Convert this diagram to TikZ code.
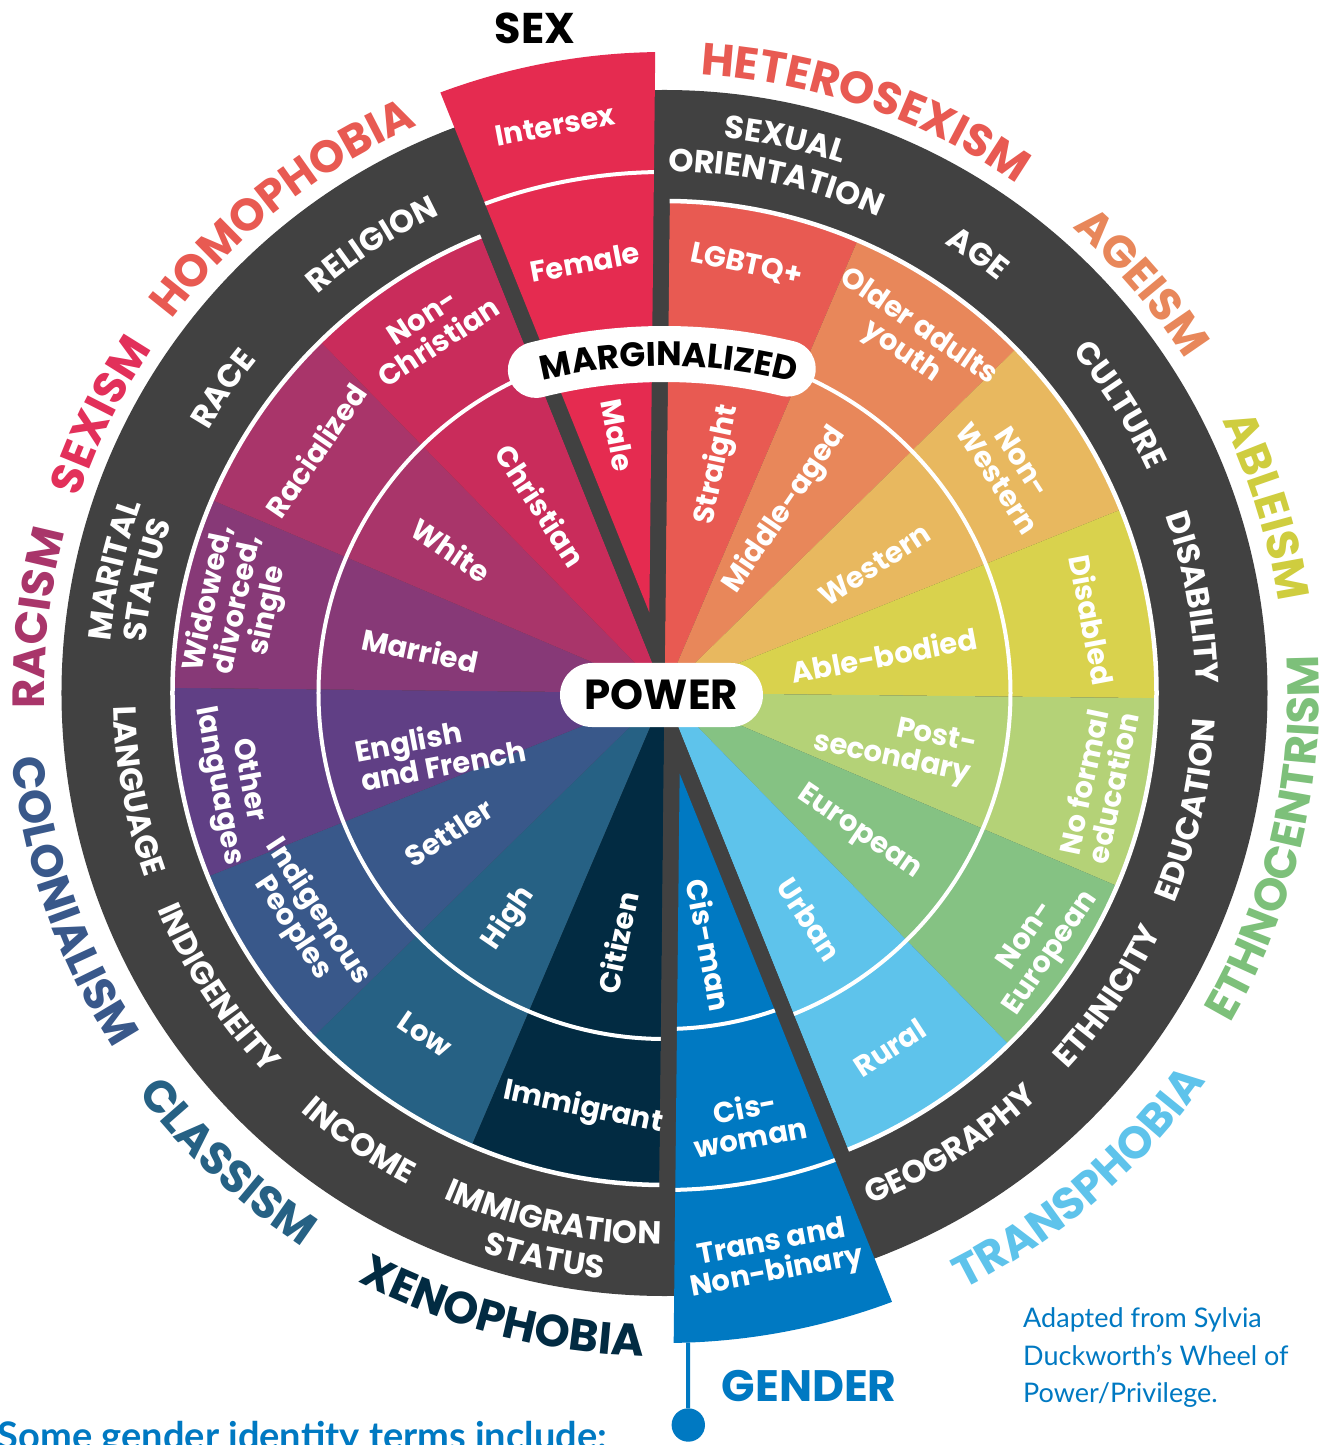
\documentclass[tikz,border=0pt]{standalone}
\usepackage{fontspec}
\setmainfont{Poppins}
\newfontfamily\lato{Lato}
\usetikzlibrary{decorations.text}
\definecolor{cdark}{HTML}{414141}
\definecolor{csexor}{HTML}{E85A52}
\definecolor{cage}{HTML}{E8875A}
\definecolor{ccult}{HTML}{E8B85F}
\definecolor{cdis}{HTML}{D9D24D}
\definecolor{cedu}{HTML}{B4D277}
\definecolor{ceth}{HTML}{85C283}
\definecolor{cgeo}{HTML}{5EC3EB}
\definecolor{cgen}{HTML}{0079C2}
\definecolor{cimm}{HTML}{022B42}
\definecolor{cinc}{HTML}{266184}
\definecolor{cind}{HTML}{39588A}
\definecolor{clan}{HTML}{603F85}
\definecolor{cmar}{HTML}{873977}
\definecolor{crace}{HTML}{A9356A}
\definecolor{crel}{HTML}{C92C5B}
\definecolor{csex}{HTML}{E52B50}
\definecolor{cableism}{HTML}{CFCD3F}
\definecolor{cethism}{HTML}{7DC07A}
\definecolor{csexism}{HTML}{E2305A}
\newcommand\ringf{\bfseries\fontsize{32}{35}\selectfont\color{white}}
\newcommand\ismf{\bfseries\fontsize{45}{50}\selectfont}
\newcommand\rt{(-0.6)}
\newcommand\wedgefill[4]{\fill[#1] (0,0) -- ({#2}:#4) arc[start angle={#2}, end angle={#3}, radius=#4] -- cycle;}
\newcommand\utext[4]{\path[decorate,decoration={text along path,text align=center,text={|#3|#4}}] ({#1+45}:#2) arc[start angle={#1+45},end angle={#1-45},radius=#2];}
\newcommand\ltext[4]{\path[decorate,decoration={text along path,text align=center,text={|#3|#4}}] ({#1-45}:#2) arc[start angle={#1-45},end angle={#1+45},radius=#2];}
\tikzset{
  seg/.style={text=white, font=\bfseries\fontsize{29}{30}\selectfont, align=center, inner sep=0},
  whiteline/.style={draw=white, line width=4}
}
\begin{document}
\begin{tikzpicture}[x=1pt,y=1pt]
\useasboundingbox (-664.5,-752) rectangle (672.5,693);
\fill[white] (-664.5,-752) rectangle (672.5,693);
% dark ring
\fill[cdark] (0,0) circle[radius=603];
% category wedges
\wedgefill{csexor}{67.5+\rt}{90+\rt}{492}
\wedgefill{cage}{45+\rt}{67.5+\rt}{492}
\wedgefill{ccult}{22.5+\rt}{45+\rt}{492}
\wedgefill{cdis}{0+\rt}{22.5+\rt}{492}
\wedgefill{cedu}{-22.5+\rt}{0+\rt}{492}
\wedgefill{ceth}{-45+\rt}{-22.5+\rt}{492}
\wedgefill{cgeo}{-67.5+\rt}{-45+\rt}{492}
\wedgefill{cimm}{247.5+\rt}{270+\rt}{492}
\wedgefill{cinc}{225+\rt}{247.5+\rt}{492}
\wedgefill{cind}{202.5+\rt}{225+\rt}{492}
\wedgefill{clan}{180+\rt}{202.5+\rt}{492}
\wedgefill{cmar}{157.5+\rt}{180+\rt}{492}
\wedgefill{crace}{135+\rt}{157.5+\rt}{492}
\wedgefill{crel}{112.5+\rt}{135+\rt}{492}
% white circles
\draw[whiteline] (0,0) circle[radius=346];
\draw[whiteline, line width=4.5] (0,0) circle[radius=492];
% sex slot
\wedgefill{cdark}{90+\rt}{112.5+\rt}{603}
\fill[csex] ({101.25+\rt}:82) -- ({112.5+\rt-1.43}:641) arc[start angle={112.5+\rt-1.43}, end angle={90+\rt+1.43}, radius=641] -- cycle;
\begin{scope}
\clip ({101.25+\rt}:82) -- ({112.5+\rt-1.43}:641) arc[start angle={112.5+\rt-1.43}, end angle={90+\rt+1.43}, radius=641] -- cycle;
\draw[whiteline] (0,0) circle[radius=521];
\draw[whiteline] (0,0) circle[radius=346];
\end{scope}
% gender slot
\wedgefill{cdark}{270+\rt}{292.5+\rt}{603}
\fill[cgen] ({281.25+\rt}:82) -- ({292.5+\rt-1.41}:650) arc[start angle={292.5+\rt-1.41}, end angle={270+\rt+1.41}, radius=650] -- cycle;
\begin{scope}
\clip ({281.25+\rt}:82) -- ({292.5+\rt-1.41}:650) arc[start angle={292.5+\rt-1.41}, end angle={270+\rt+1.41}, radius=650] -- cycle;
\draw[whiteline] (0,0) circle[radius=497];
\draw[whiteline] (0,0) circle[radius=336];
\end{scope}
% gender pin
\coordinate (gtop) at (23.5,-649.6);
\node[circle, fill=cgen, minimum size=33.4pt, inner sep=0] (gdot) at (23.8,-732) {};
\draw[cgen, line width=4] (gtop) -- (gdot);
% inner labels
\node[seg, rotate=78.15] (straight) at (77:234) {Straight};
\node[seg, rotate=55.65] (middle) at (56.7:219) {Middle-aged};
\node[seg, rotate=33.15] (western) at (31.4:246) {Western};
\node[seg, rotate=10.65] (able) at (9.8:223) {Able-bodied};
\node[seg, rotate=-11.85, align=right] (postsec) at (-12.7:236) {Post-\\secondary};
\node[seg, rotate=-34.35] (european) at (-35.7:240) {European};
\node[seg, rotate=-56.85] (urban) at (-57.4:269) {Urban};
\node[seg, rotate=-79.35] (cisman) at (-79.9:256) {Cis-man};
\node[seg, rotate=78.15] (citizen) at (259.3:254) {Citizen};
\node[seg, rotate=55.65] (high) at (235.3:274) {High};
\node[seg, rotate=33.15] (settler) at (213:257) {Settler};
\node[seg, rotate=10.65, align=left] (english) at (194.3:231) {English\\and French};
\node[seg, rotate=-11.85] (married) at (170:248) {Married};
\node[seg, rotate=-34.35] (white) at (146.2:257) {White};
\node[seg, rotate=-56.85] (christian) at (123.4:225) {Christian};
\node[seg, rotate=-79.35] (male) at (100.3:262) {Male};
% outer labels
\node[seg, rotate=-11.85] (lgbtq) at (79.2:436) {LGBTQ+};
\node[seg, rotate=-34.35] (older) at (55.2:430) {Older adults\\youth};
\node[seg, rotate=-56.85] (nonwestern) at (32.8:411) {Non-\\Western};
\node[seg, rotate=-79.35] (disabled) at (9.7:434) {Disabled};
\node[seg, rotate=78.15] (noformal) at (-12:443) {No formal\\education};
\node[seg, rotate=55.65] (noneuro) at (-33.9:452) {Non-\\European};
\node[seg, rotate=33.15] (rural) at (-57.6:420) {Rural};
\node[seg, rotate=10.65] (ciswoman) at (-79:437) {Cis-\\woman};
\node[seg, rotate=10.65] (trans) at (-79:576) {Trans and\\Non-binary};
\node[seg, rotate=-11.85] (immigrant) at (258.9:423) {Immigrant};
\node[seg, rotate=-34.35] (low) at (235:417) {Low};
\node[seg, rotate=-56.85] (indigenous) at (212.3:425) {Indigenous\\Peoples};
\node[seg, rotate=-79.35] (otherlang) at (191.8:441) {Other\\languages};
\node[seg, rotate=78.15] (widowed) at (168.3:435) {Widowed,\\divorced,\\single};
\node[seg, rotate=55.65] (racialized) at (145.2:425) {Racialized};
\node[seg, rotate=33.15] (nonchristian) at (122.8:432) {Non-\\Christian};
\node[seg, rotate=10.65] (intersex) at (100.9:578) {Intersex};
\node[seg, rotate=10.65] (female) at (100.5:438) {Female};
% ring labels
\utext{77.7}{558.5}{\ringf}{SEXUAL}
\utext{77.7}{521.5}{\ringf}{ORIENTATION}
\utext{54.5}{529.5}{\ringf}{AGE}
\utext{32.3}{531.5}{\ringf}{CULTURE}
\utext{10.2}{531.5}{\ringf}{DISABILITY}
\ltext{-12.6}{551.5}{\ringf}{EDUCATION}
\ltext{-34.4}{551.5}{\ringf}{ETHNICITY}
\ltext{-57.7}{551.5}{\ringf}{GEOGRAPHY}
\ltext{258}{551.5}{\ringf}{IMMIGRATION}
\ltext{258}{588.5}{\ringf}{STATUS}
\ltext{235.7}{554.5}{\ringf}{INCOME}
\ltext{213.4}{551.5}{\ringf}{INDIGENEITY}
\ltext{190.5}{551.5}{\ringf}{LANGUAGE}
\utext{167.4}{556.5}{\ringf}{MARITAL}
\utext{167.7}{521.5}{\ringf}{STATUS}
\utext{145.4}{526.5}{\ringf}{RACE}
\utext{123.1}{528.5}{\ringf}{RELIGION}
% isms
\utext{71.0}{619.25}{\ismf\color{csexor}}{HETEROSEXISM}
\utext{40.7}{618.25}{\ismf\color{cage}}{AGEISM}
\utext{17.2}{620.25}{\ismf\color{cableism}}{ABLEISM}
\ltext{-13.5}{655}{\ismf\color{cethism}}{ETHNOCENTRISM}
\ltext{-49.5}{666.75}{\ismf\color{cgeo}}{TRANSPHOBIA}
\ltext{255.3}{663.75}{\ismf\color{cimm}}{XENOPHOBIA}
\ltext{227}{661.75}{\ismf\color{cinc}}{CLASSISM}
\ltext{199.3}{655.75}{\ismf\color{cind}}{COLONIALISM}
\utext{173.2}{620.25}{\ismf\color{crace}}{RACISM}
\utext{153.8}{617.25}{\ismf\color{csexism}}{SEXISM}
\utext{128.2}{618.25}{\ismf\color{csexor}}{HOMOPHOBIA}
% marginalized pill
\draw[white, line width=56, line cap=round, shift={(0,-189)}] (104.1:528) arc[start angle=104.1, end angle=76.5, radius=528];
\path[shift={(0,-189)}, decorate, decoration={text along path, text align=center, text={|\bfseries\fontsize{34}{34}\selectfont|MARGINALIZED}}] (119.5:516) arc[start angle=119.5, end angle=59.5, radius=516];
% power pill
\node[fill=white, rounded corners=32pt, minimum width=203pt, minimum height=64pt, inner sep=0, font=\bfseries\fontsize{42}{42}\selectfont] (power) at (-3,-2) {POWER};
% titles
\node[font=\bfseries\fontsize{43}{43}\selectfont, inner sep=0] (sexlab) at (-129.5,665) {SEX};
\node[text=cgen, font=\bfseries\fontsize{44}{44}\selectfont, inner sep=0] (genlab) at (144.7,-693) {GENDER};
\node[anchor=base west, text=cgen, font=\lato\fontsize{27}{27}\selectfont, inner sep=0] (ad1) at (358.5,-634) {Adapted from Sylvia};
\node[anchor=base west, text=cgen, font=\lato\fontsize{27}{27}\selectfont, inner sep=0] (ad2) at (358.5,-672) {Duckworth’s Wheel of};
\node[anchor=base west, text=cgen, font=\lato\fontsize{27}{27}\selectfont, inner sep=0] (ad3) at (358.5,-709) {Power/Privilege.};
\node[anchor=base west, text=cgen, font=\lato\bfseries\fontsize{38}{38}\selectfont, inner sep=0] (terms) at (-667,-756) {Some gender identity terms include:};
\end{tikzpicture}
\end{document}
